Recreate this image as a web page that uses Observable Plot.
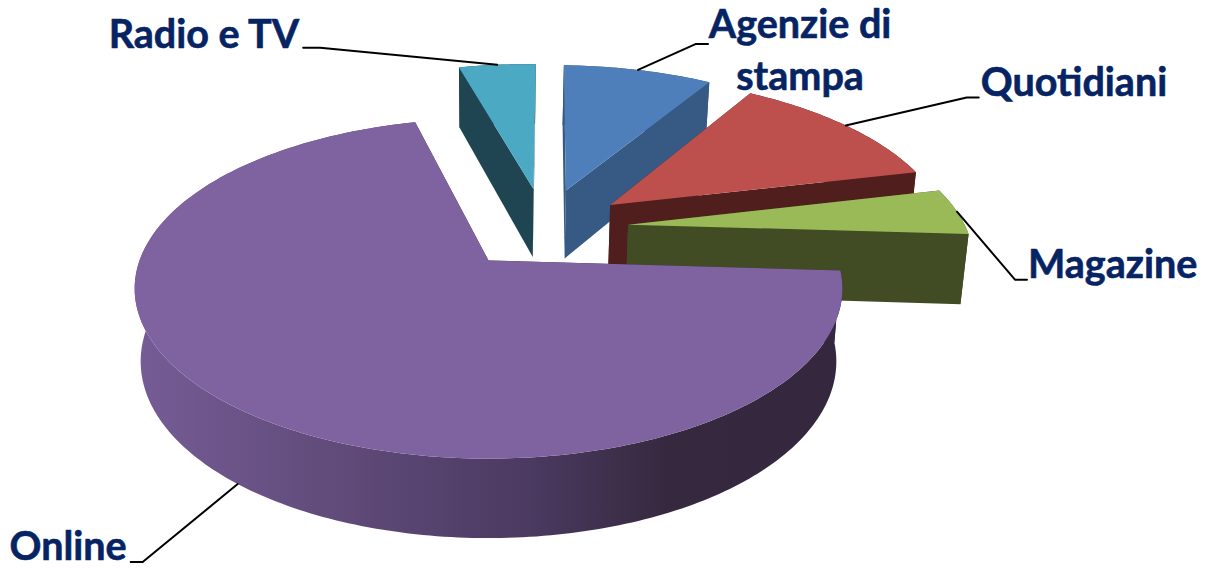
<!DOCTYPE html>
<html><head><meta charset="utf-8">
<script src="https://cdn.jsdelivr.net/npm/d3@7"></script>
<script src="https://cdn.jsdelivr.net/npm/@observablehq/plot@0.6"></script>
<style>html,body{margin:0;padding:0;background:#fff}svg{display:block}</style>
</head><body><div id="chart"></div>
<script>
// Data, clockwise from the first slice
const categories = ["Agenzie di\nstampa", "Quotidiani", "Magazine", "Online", "Radio e TV"];
const shares = [8.44, 12.44, 4.6, 70.13, 4.39];
const startAngle = 1.7;

// Styles
const topColors = ["#4f7fbb", "#bd504c", "#9aba58", "#7f63a0", "#4ba9c4"];
const cutColors = ["#365a84", "#4f1e1d", "#414c24", "#35283f", "#1f4552"];
const wallColors = ["#365a84", "#4f1e1d", "#414c24", "url(#onlineWall)", "#1f4552"];

// Label layout: leader elbow relative to rim point, tail, text offset
const elbows = [[58, -26], [121, -28], [58, 68], [-95, 78], [-177, -17]];
const tails = [12, 12, 12, -12, -17];
const textOffsets = [[92, 3], [2, -18], [1, -18], [-4, -19], [-4, -16]];
const textAnchors = ["middle", "start", "start", "end", "end"];

// 3D pie geometry
const cx = 488, cy = 260, A = 349, B = 165.4, k = 0.165, bottomScale = 0.983, explode = 0.26;
const depth0 = 71.5, depthSlope = 8, explodeU = 0.96, stretchV = 1.012;
const rad = d => d * Math.PI / 180;

let a = startAngle;
const slices = categories.map((name, i) => {
  const a0 = a, a1 = a + shares[i] * 3.6; a = a1;
  const mid = (a0 + a1) / 2;
  return {name, i, a0, a1, mid, ox: explode * Math.sin(rad(mid)), oy: explode * Math.cos(rad(mid))};
});
const ref = slices[3];
const project = (s, r, ang, low) => {
  const isRef = s === ref;
  const u = (isRef ? 0 : s.ox * explodeU - ref.ox) + r * Math.sin(rad(ang));
  const v = (s.oy - ref.oy + r * Math.cos(rad(ang))) * (isRef ? 1 : stretchV);
  const w = 1 + k * v;
  return low
    ? {x: cx + bottomScale * A * u / w, y: cy - B * v / w + depth0 - depthSlope * v}
    : {x: cx + A * u / w, y: cy - B * v / w};
};
const arc = (s, low) => d3.range(0, 1.0001, 1 / Math.max(4, Math.ceil(s.a1 - s.a0)))
  .map(t => project(s, 1, s.a0 + t * (s.a1 - s.a0), low));

const marks = [() => {
  const defs = d3.create("svg:defs");
  const g = defs.append("linearGradient").attr("id", "onlineWall");
  [[0, "#765c96"], [0.3, "#5f4a78"], [0.55, "#4c3a62"], [0.75, "#36293f"], [1, "#34273e"]]
    .forEach(([o, c]) => g.append("stop").attr("offset", o).attr("stop-color", c));
  return defs.node();
}];
const poly = (pts, fill) => Plot.line([...pts, pts[0]], {x: "x", y: "y", fill, stroke: "none"});

// Back to front: the slices are already in paint order for this view
for (const s of [slices[4], slices[0], slices[1], slices[2], slices[3]]) {
  const apexT = project(s, 0, 0, false), apexB = project(s, 0, 0, true);
  marks.push(poly([...arc(s, false), ...arc(s, true).reverse()], wallColors[s.i]));
  for (const ang of [s.a0, s.a1]) {
    marks.push(poly([apexT, project(s, 1, ang, false), project(s, 1, ang, true), apexB], cutColors[s.i]));
  }
  marks.push(poly([apexT, ...arc(s, false)], topColors[s.i]));
}

// Leaders and labels
const labels = [];
for (const s of slices) {
  const rim = project(s, 1, s.mid, s.i === 3);
  const e = elbows[s.i];
  const elbow = {x: rim.x + e[0], y: rim.y + e[1]};
  const end = {x: elbow.x + tails[s.i], y: elbow.y};
  marks.push(Plot.line([rim, elbow, end], {x: "x", y: "y", stroke: "#000", strokeWidth: 2}));
  const t = textOffsets[s.i];
  labels.push({name: s.name, x: end.x + t[0], y: end.y + t[1], anchor: textAnchors[s.i]});
}
for (const anchor of ["start", "middle", "end"]) {
  marks.push(Plot.text(labels.filter(d => d.anchor === anchor), {
    x: "x", y: "y", text: "name", textAnchor: anchor, lineHeight: 1.32,
    fontFamily: "Lato", fontWeight: 700, fontSize: 39.5, fill: "#062363",
    stroke: "#062363", strokeWidth: 0.6
  }));
}

document.getElementById("chart").append(Plot.plot({
  width: 1214, height: 568, margin: 0,
  x: {domain: [0, 1214], range: [0, 1214], axis: null},
  y: {domain: [0, 568], range: [0, 568], axis: null},
  marks
}));
</script></body></html>
